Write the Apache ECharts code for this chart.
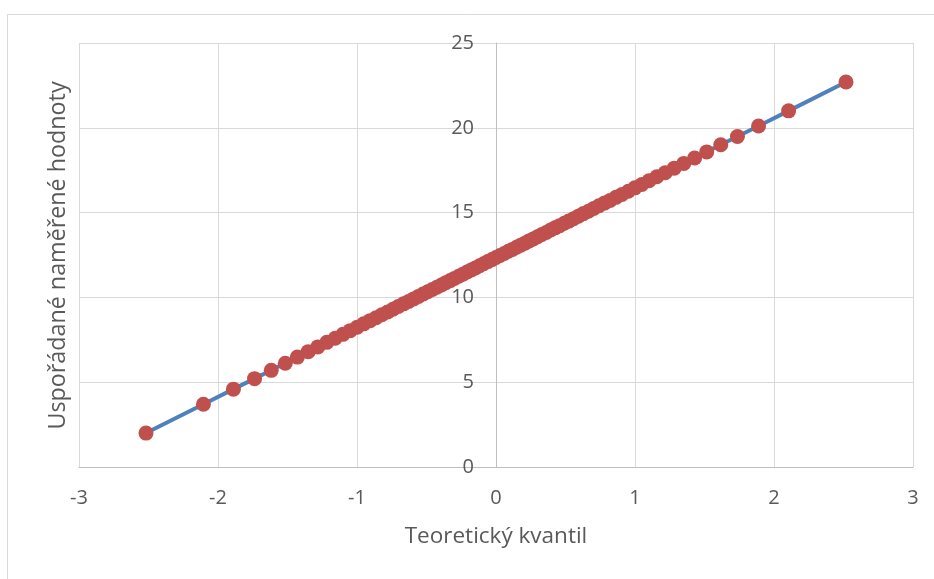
<!DOCTYPE html>
<html>
<head>
<meta charset="utf-8">
<script src="https://cdn.jsdelivr.net/npm/echarts@6/dist/echarts.min.js"></script>
<style>
html,body{margin:0;padding:0;background:#fff;}
#chart{width:934px;height:579px;}
</style>
</head>
<body>
<div id="chart"></div>
<script>
// Theoretical quantiles (x) and ordered measured values (y)
const quantiles = [
  -2.518, -2.105, -1.889, -1.737, -1.617, -1.516, -1.429, -1.351, -1.282, -1.217,
  -1.157, -1.101, -1.049, -0.999, -0.952, -0.906, -0.863, -0.821, -0.780, -0.741,
  -0.703, -0.665, -0.629, -0.593, -0.558, -0.524, -0.491, -0.458, -0.425, -0.393,
  -0.361, -0.330, -0.299, -0.268, -0.238, -0.208, -0.178, -0.148, -0.118, -0.089,
  -0.059, -0.029, 0.000,
  0.029, 0.059, 0.089, 0.118, 0.148, 0.178, 0.208, 0.238, 0.268, 0.299,
  0.330, 0.361, 0.393, 0.425, 0.458, 0.491, 0.524, 0.558, 0.593, 0.629,
  0.665, 0.703, 0.741, 0.780, 0.821, 0.863, 0.906, 0.952, 0.999, 1.049,
  1.101, 1.157, 1.217, 1.282, 1.351, 1.429, 1.516, 1.617, 1.737, 1.889,
  2.105, 2.518
];
const values = [
  2.00, 3.70, 4.59, 5.21, 5.70, 6.12, 6.48, 6.80, 7.08, 7.35,
  7.59, 7.82, 8.04, 8.24, 8.44, 8.63, 8.80, 8.98, 9.14, 9.30,
  9.46, 9.62, 9.76, 9.91, 10.06, 10.20, 10.33, 10.47, 10.60, 10.73,
  10.87, 10.99, 11.12, 11.25, 11.37, 11.50, 11.62, 11.74, 11.87, 11.98,
  12.11, 12.23, 12.35,
  12.47, 12.59, 12.72, 12.83, 12.96, 13.08, 13.20, 13.33, 13.45, 13.58,
  13.71, 13.83, 13.97, 14.10, 14.23, 14.37, 14.50, 14.64, 14.79, 14.94,
  15.08, 15.24, 15.40, 15.56, 15.72, 15.90, 16.07, 16.26, 16.46, 16.66,
  16.88, 17.11, 17.35, 17.62, 17.90, 18.22, 18.58, 19.00, 19.49, 20.11,
  21.00, 22.70
];
const xTitle = 'Teoretický kvantil';
const yTitle = 'Uspořádané naměřené hodnoty';

const points = quantiles.map((q, i) => [q, values[i]]);
const fontFamily = "'Open Sans', 'Noto Sans', sans-serif";
const textColor = '#595959';

const gridLeft = 79, gridRight = 21, xMin = -3, xMax = 3;
const plotWidth = 934 - gridLeft - gridRight;
// shift the y axis so it sits on x = 0
const yAxisOffset = -plotWidth * (0 - xMin) / (xMax - xMin);

const chart = echarts.init(document.getElementById('chart'), null, {renderer: 'canvas'});
chart.setOption({
  animation: false,
  backgroundColor: '#ffffff',
  grid: {left: gridLeft, right: gridRight, top: 43, bottom: 112, containLabel: false},
  xAxis: {
    type: 'value', min: xMin, max: xMax, interval: 1,
    axisLine: {show: true, onZero: false, lineStyle: {color: '#BFBFBF', width: 1}},
    axisTick: {show: false},
    axisLabel: {color: textColor, fontSize: 20, fontFamily: fontFamily, margin: 21},
    splitLine: {show: true, lineStyle: {color: '#D9D9D9', width: 1}}
  },
  yAxis: {
    type: 'value', min: 0, max: 25, interval: 5, position: 'left', offset: yAxisOffset,
    axisLine: {show: true, onZero: false, lineStyle: {color: '#BFBFBF', width: 1}},
    axisTick: {show: false},
    axisLabel: {color: textColor, fontSize: 20, fontFamily: fontFamily, margin: 22},
    splitLine: {show: true, lineStyle: {color: '#D9D9D9', width: 1}}
  },
  series: [
    {
      type: 'line', data: points, showSymbol: false, symbol: 'none',
      lineStyle: {color: '#4F81BD', width: 4}, z: 2, silent: true
    },
    {
      type: 'scatter', data: points, symbol: 'circle', symbolSize: 15,
      itemStyle: {color: '#C0504D', opacity: 1}, z: 3
    }
  ],
  graphic: [
    {
      type: 'rect', silent: true, z: -1,
      shape: {x: 7.5, y: 14.5, width: 940, height: 580},
      style: {fill: 'none', stroke: '#D9D9D9', lineWidth: 1}
    },
    {
      type: 'text', x: 496, y: 537,
      style: {text: xTitle, fill: textColor, fontSize: 22.5, fontFamily: fontFamily,
              align: 'center', verticalAlign: 'middle'}
    },
    {
      type: 'text', rotation: Math.PI / 2, x: 58, y: 255.5,
      style: {text: yTitle, fill: textColor, fontSize: 23.3, fontFamily: fontFamily,
              align: 'center', verticalAlign: 'middle'}
    }
  ]
});
</script>
</body>
</html>
